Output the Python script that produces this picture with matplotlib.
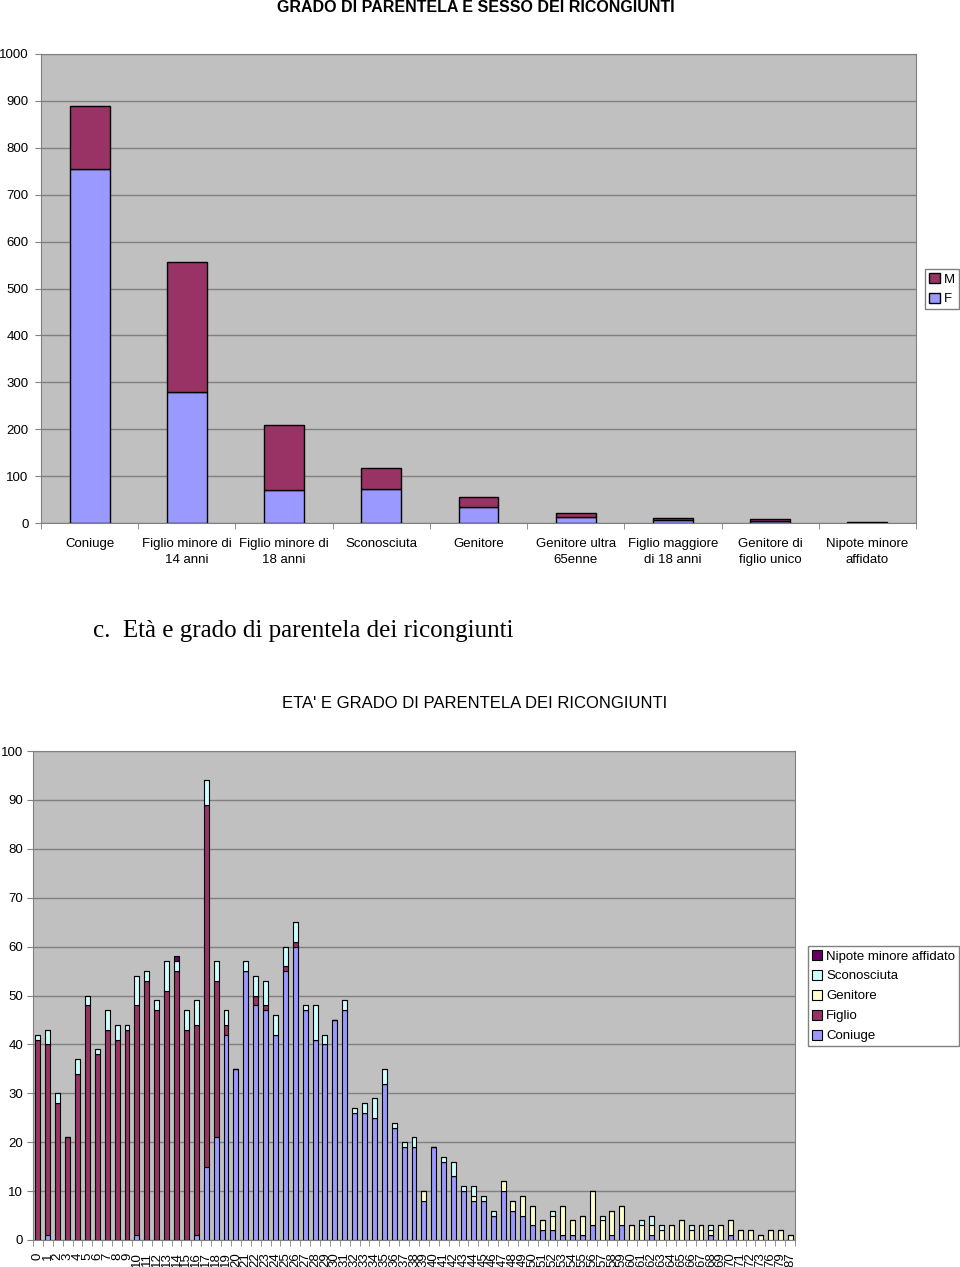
import matplotlib
matplotlib.use("Agg")
import matplotlib.pyplot as plt
import numpy as np

plt.rcParams['font.family'] = ['Liberation Sans', 'DejaVu Sans']

# ---- chart 1: grado di parentela e sesso ----
categorie = ["Coniuge", "Figlio minore di\n14 anni", "Figlio minore di\n18 anni",
             "Sconosciuta", "Genitore", "Genitore ultra\n65enne",
             "Figlio maggiore\ndi 18 anni", "Genitore di\nfiglio unico",
             "Nipote minore\naffidato"]
femmine = [755, 280, 70, 73, 34, 13, 6, 4, 1]
maschi = [134, 277, 139, 44, 21, 8, 5, 4, 1]

# ---- chart 2: eta' e grado di parentela ----
eta = list(range(0, 74)) + [76, 79, 87]
coniuge = [0, 1, 0, 0, 0, 0, 0, 0, 0, 0,
           1, 0, 0, 0, 0, 0, 1, 15, 21, 42,
           35, 55, 48, 47, 42, 55, 60, 47, 41, 40,
           45, 47, 26, 26, 25, 32, 23, 19, 19, 8,
           19, 16, 13, 10, 8, 8, 5, 10, 6, 5,
           3, 2, 2, 1, 1, 1, 3, 0, 1, 3,
           0, 0, 1, 0, 0, 0, 0, 0, 1, 0,
           1, 0, 0, 0, 0, 0, 0]
figlio = [41, 39, 28, 21, 34, 48, 38, 43, 41, 43,
          47, 53, 47, 51, 55, 43, 43, 74, 32, 2,
          0, 0, 2, 1, 0, 1, 1, 0, 0, 0,
          0, 0, 0, 0, 0, 0, 0, 0, 0, 0,
          0, 0, 0, 0, 0, 0, 0, 0, 0, 0,
          0, 0, 0, 0, 0, 0, 0, 0, 0, 0,
          0, 0, 0, 0, 0, 0, 0, 0, 0, 0,
          0, 0, 0, 0, 0, 0, 0]
genitore = [0, 0, 0, 0, 0, 0, 0, 0, 0, 0,
            0, 0, 0, 0, 0, 0, 0, 0, 0, 0,
            0, 0, 0, 0, 0, 0, 0, 0, 0, 0,
            0, 0, 0, 0, 0, 0, 0, 0, 0, 2,
            0, 0, 0, 0, 1, 0, 0, 2, 2, 4,
            4, 2, 3, 6, 3, 4, 7, 4, 5, 4,
            3, 3, 2, 2, 3, 4, 2, 3, 1, 3,
            3, 2, 2, 1, 2, 2, 1]
sconosciuta = [1, 3, 2, 0, 3, 2, 1, 4, 3, 1,
               6, 2, 2, 6, 2, 4, 5, 5, 4, 3,
               0, 2, 4, 5, 4, 4, 4, 1, 7, 2,
               0, 2, 1, 2, 4, 3, 1, 1, 2, 0,
               0, 1, 3, 1, 2, 1, 1, 0, 0, 0,
               0, 0, 1, 0, 0, 0, 0, 1, 0, 0,
               0, 1, 2, 1, 0, 0, 1, 0, 1, 0,
               0, 0, 0, 0, 0, 0, 0]
nipote = [0] * 14 + [1] + [0] * 62

W, H = 960, 1267
fig = plt.figure(figsize=(W / 100, H / 100), dpi=100)
bg = '#C0C0C0'

def px_axes(l, t, r, b):
    return fig.add_axes([l / W, 1 - b / H, (r - l) / W, (b - t) / H])

# ---------- chart 1 ----------
ax1 = px_axes(41, 54, 916, 523)
ax1.set_facecolor(bg)
x1 = np.arange(len(categorie))
bf = ax1.bar(x1, femmine, 0.41, color='#9999FF', edgecolor='black', linewidth=1, label='F', zorder=3)
bm = ax1.bar(x1, maschi, 0.41, bottom=femmine, color='#993366', edgecolor='black', linewidth=1, label='M', zorder=3)
ax1.set_xlim(-0.5, len(categorie) - 0.5)
ax1.set_ylim(0, 1000)
ax1.set_yticks(range(0, 1001, 100))
ax1.yaxis.grid(True, color='#808080', linewidth=1, zorder=0)
ax1.set_xticks(x1)
ax1.set_xticklabels(categorie, fontsize=9.5, linespacing=1.4)
ax1.set_xticks(np.arange(-0.5, len(categorie)), minor=True)
ax1.tick_params(axis='x', which='major', length=0, pad=11)
ax1.tick_params(axis='x', which='minor', length=4, color='#808080')
ax1.tick_params(axis='y', labelsize=9.5, length=4, color='#808080', pad=5)
for s in ax1.spines.values():
    s.set_color('#808080')
fig.text(476 / W, 1 - 8 / H, "GRADO DI PARENTELA E SESSO DEI RICONGIUNTI",
         ha='center', va='center', fontsize=11.5, fontweight='bold')
leg1 = fig.legend(handles=[bm, bf], labels=['M', 'F'], loc='upper right',
                  bbox_to_anchor=(959 / W, 1 - 269 / H), fontsize=9.5,
                  handlelength=0.8, handleheight=0.8, handletextpad=0.3,
                  borderpad=0.3, borderaxespad=0, labelspacing=0.55, fancybox=False,
                  edgecolor='#808080', framealpha=1)
leg1.get_frame().set_linewidth(1)

fig.text(93 / W, 1 - 631 / H, "c.  Età e grado di parentela dei ricongiunti",
         ha='left', va='center', fontsize=18, family=['Liberation Serif', 'DejaVu Serif'])

# ---------- chart 2 ----------
ax2 = px_axes(33, 751, 795, 1240)
ax2.set_facecolor(bg)
x2 = np.arange(len(eta))
base = np.zeros(len(eta))
serie = [('Coniuge', coniuge, '#9999FF'), ('Figlio', figlio, '#993366'),
         ('Genitore', genitore, '#FFFFCC'), ('Sconosciuta', sconosciuta, '#CCFFFF'),
         ('Nipote minore affidato', nipote, '#660066')]
handles = {}
for nome, vals, col in serie:
    v = np.array(vals, dtype=float)
    handles[nome] = ax2.bar(x2, v, 0.5, bottom=base, color=col, edgecolor='black',
                            linewidth=0.8, label=nome, zorder=3)
    base = base + v
ax2.set_xlim(-0.5, len(eta) - 0.5)
ax2.set_ylim(0, 100)
ax2.set_yticks(range(0, 101, 10))
ax2.yaxis.grid(True, color='#808080', linewidth=1, zorder=0)
ax2.set_xticks(x2)
ax2.set_xticklabels([str(e) for e in eta], rotation=90, fontsize=9.5)
ax2.set_xticks(np.arange(-0.5, len(eta)), minor=True)
ax2.tick_params(axis='x', which='major', length=0, pad=9)
ax2.tick_params(axis='x', which='minor', length=4, color='#808080')
ax2.tick_params(axis='y', labelsize=9.5, length=4, color='#808080', pad=3)
for s in ax2.spines.values():
    s.set_color('#808080')
fig.text(475 / W, 1 - 703 / H, "ETA' E GRADO DI PARENTELA DEI RICONGIUNTI",
         ha='center', va='center', fontsize=12)
ordine = ['Nipote minore affidato', 'Sconosciuta', 'Genitore', 'Figlio', 'Coniuge']
leg2 = fig.legend(handles=[handles[n] for n in ordine], labels=ordine, loc='upper right',
                  bbox_to_anchor=(959 / W, 1 - 946 / H), fontsize=9.5,
                  handlelength=0.8, handleheight=0.8, handletextpad=0.3,
                  borderpad=0.3, borderaxespad=0, labelspacing=0.55, fancybox=False,
                  edgecolor='#808080', framealpha=1)
leg2.get_frame().set_linewidth(1)

fig.savefig("out.png", dpi=100)
